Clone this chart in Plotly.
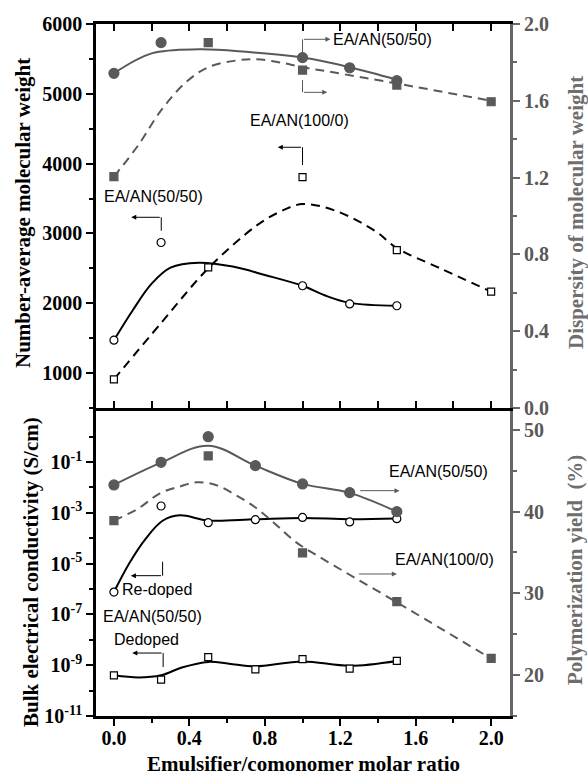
import plotly.graph_objects as go

# ---------------- data ----------------
# Top panel: number-average molecular weight (left) and dispersity (right)
mn_5050_x = [0.0, 0.25, 1.0, 1.25, 1.5]
mn_5050_y = [1470, 2870, 2250, 1990, 1964]
mn_5050_fit_x = [0.0, 0.1, 0.2, 0.3, 0.45, 0.63, 0.8, 1.0, 1.12, 1.25, 1.5]
mn_5050_fit_y = [1470, 1900, 2280, 2510, 2580, 2525, 2405, 2250, 2110, 2005, 1964]

mn_1000_x = [0.0, 0.5, 1.0, 1.5, 2.0]
mn_1000_y = [910, 2514, 3805, 2762, 2165]
mn_1000_fit_x = [0.0, 0.25, 0.5, 0.75, 0.88, 1.0, 1.18, 1.39, 1.5, 1.73, 2.0]
mn_1000_fit_y = [910, 1716, 2500, 3100, 3310, 3420, 3320, 3025, 2790, 2500, 2165]

pdi_5050_x = [0.0, 0.25, 1.0, 1.25, 1.5]
pdi_5050_y = [1.743, 1.903, 1.825, 1.772, 1.705]
pdi_5050_fit_x = [0.0, 0.2, 0.45, 0.7, 1.0, 1.25, 1.5]
pdi_5050_fit_y = [1.743, 1.847, 1.868, 1.855, 1.825, 1.775, 1.71]

pdi_1000_x = [0.0, 0.5, 1.0, 1.5, 2.0]
pdi_1000_y = [1.205, 1.903, 1.76, 1.682, 1.595]
pdi_1000_fit_x = [0.0, 0.13, 0.25, 0.38, 0.5, 0.65, 0.76, 0.88, 1.0, 1.14, 1.5, 2.0]
pdi_1000_fit_y = [1.205, 1.37, 1.55, 1.695, 1.775, 1.81, 1.816, 1.8, 1.775, 1.752, 1.69, 1.6]

# Bottom panel: conductivity (left, log) and polymerization yield (right)
redoped_x = [0.0, 0.25, 0.5, 0.75, 1.0, 1.25, 1.5]
redoped_y = [7.6e-7, 1.86e-3, 4.1e-4, 5.4e-4, 6.6e-4, 4.4e-4, 5.9e-4]
redoped_fit_x = [0.0, 0.08, 0.17, 0.26, 0.35, 0.5, 0.75, 1.0, 1.25, 1.5]
redoped_fit_y = [7.6e-7, 1.0e-5, 1.0e-4, 5.0e-4, 8.0e-4, 5.0e-4, 5.6e-4, 6.3e-4, 5.6e-4, 6.0e-4]

dedoped_x = [0.0, 0.25, 0.5, 0.75, 1.0, 1.25, 1.5]
dedoped_y = [4.0e-10, 2.7e-10, 2.1e-9, 6.8e-10, 1.74e-9, 7.4e-10, 1.48e-9]
dedoped_fit_x = [0.0, 0.13, 0.25, 0.36, 0.5, 0.61, 0.75, 1.0, 1.25, 1.5]
dedoped_fit_y = [4.0e-10, 3.3e-10, 4.0e-10, 8.1e-10, 1.35e-9, 1.15e-9, 9.1e-10, 1.41e-9, 9.5e-10, 1.48e-9]

yield_5050_x = [0.0, 0.25, 0.5, 0.75, 1.0, 1.25, 1.5]
yield_5050_y = [43.27, 46.04, 49.18, 45.63, 43.39, 42.33, 40.0]
yield_5050_fit_x = [0.0, 0.25, 0.5, 0.75, 1.0, 1.25, 1.5]
yield_5050_fit_y = [43.27, 46.0, 48.08, 45.63, 43.4, 42.3, 40.0]

yield_1000_x = [0.0, 0.5, 1.0, 1.5, 2.0]
yield_1000_y = [38.9, 46.82, 34.95, 28.98, 22.04]
yield_1000_fit_x = [0.0, 0.13, 0.244, 0.347, 0.44, 0.54, 0.645, 0.747, 0.855, 0.963, 1.072, 1.5, 2.0]
yield_1000_fit_y = [38.9, 40.4, 42.25, 43.06, 43.6, 43.27, 42.04, 40.57, 38.5, 36.3, 34.7, 28.9, 22.0]

x_ticks = [0.0, 0.4, 0.8, 1.2, 1.6, 2.0]
x_ticktext = ["0.0", "0.4", "0.8", "1.2", "1.6", "2.0"]
mn_ticks = [1000, 2000, 3000, 4000, 5000, 6000]
pdi_ticks = [0.0, 0.4, 0.8, 1.2, 1.6, 2.0]
pdi_ticktext = ["0.0", "0.4", "0.8", "1.2", "1.6", "2.0"]
cond_ticks = [1e-11, 1e-9, 1e-7, 1e-5, 1e-3, 1e-1]
cond_ticktext = ["10<sup>-11</sup>", "10<sup>-9</sup>", "10<sup>-7</sup>",
                 "10<sup>-5</sup>", "10<sup>-3</sup>", "10<sup>-1</sup>"]
cond_minor = [1e-10, 1e-8, 1e-6, 1e-4, 1e-2, 1e0]
yield_ticks = [20, 30, 40, 50]

# ---------------- styles ----------------
BLACK = "#000000"
GRAY = "#595959"
AXGRAY = "#666666"
SERIF = "Liberation Serif"
SANS = "Liberation Sans"
DASH = "9px,6px"

fig = go.Figure()


def curve(x, y, xa, ya, color, dash=None):
    fig.add_trace(go.Scatter(x=x, y=y, xaxis=xa, yaxis=ya, mode="lines",
                             line=dict(color=color, width=2, shape="spline",
                                       smoothing=1.0, dash=dash),
                             showlegend=False, hoverinfo="skip"))


def pts(x, y, xa, ya, symbol, size, fill, edge):
    fig.add_trace(go.Scatter(x=x, y=y, xaxis=xa, yaxis=ya, mode="markers",
                             marker=dict(symbol=symbol, size=size, color=fill,
                                         line=dict(color=edge, width=1.2)),
                             showlegend=False, cliponaxis=False))


# top panel
curve(mn_5050_fit_x, mn_5050_fit_y, "x2", "y2", BLACK)
curve(mn_1000_fit_x, mn_1000_fit_y, "x2", "y2", BLACK, DASH)
curve(pdi_5050_fit_x, pdi_5050_fit_y, "x2", "y4", GRAY)
curve(pdi_1000_fit_x, pdi_1000_fit_y, "x2", "y4", GRAY, DASH)
pts(pdi_5050_x, pdi_5050_y, "x2", "y4", "circle", 10, GRAY, GRAY)
pts(pdi_1000_x, pdi_1000_y, "x2", "y4", "square", 8, GRAY, GRAY)
pts(mn_5050_x, mn_5050_y, "x2", "y2", "circle", 8, "white", BLACK)
pts(mn_1000_x, mn_1000_y, "x2", "y2", "square", 7, "white", BLACK)

# bottom panel
curve(yield_5050_fit_x, yield_5050_fit_y, "x", "y3", GRAY)
curve(yield_1000_fit_x, yield_1000_fit_y, "x", "y3", GRAY, DASH)
curve(redoped_fit_x, redoped_fit_y, "x", "y", BLACK)
curve(dedoped_fit_x, dedoped_fit_y, "x", "y", BLACK)
pts(yield_5050_x, yield_5050_y, "x", "y3", "circle", 10, GRAY, GRAY)
pts(yield_1000_x, yield_1000_y, "x", "y3", "square", 8, GRAY, GRAY)
pts(redoped_x, redoped_y, "x", "y", "circle", 8, "white", BLACK)
pts(dedoped_x, dedoped_y, "x", "y", "square", 7, "white", BLACK)

SPLIT = (716 - 408) / 692
XR = [-0.095, 2.1]
tickfont_b = dict(family=SERIF, size=20, color=BLACK, weight="bold")
tickfont_g = dict(family=SERIF, size=20, color=GRAY, weight="bold")

common_x = dict(range=XR, showline=True, linecolor=BLACK, linewidth=2.5,
                tickwidth=2, tickcolor=BLACK, ticklen=7, showgrid=False, zeroline=False,
                tickvals=x_ticks, ticktext=x_ticktext,
                minor=dict(tickvals=[0.2, 0.6, 1.0, 1.4, 1.8], ticklen=4, tickwidth=2,
                           tickcolor=BLACK, ticks="inside", showgrid=False))

fig.update_layout(
    width=588, height=775,
    margin=dict(l=96, r=78, t=24, b=59),
    paper_bgcolor="white", plot_bgcolor="white",
    showlegend=False,
    xaxis=dict(common_x, domain=[0, 1], anchor="y", ticks="outside",
               tickfont=tickfont_b, showticklabels=True, ticklabelstandoff=-5,
               minor=dict(tickvals=[0.2, 0.6, 1.0, 1.4, 1.8], ticklen=4, tickwidth=2,
                          tickcolor=BLACK, ticks="outside", showgrid=False)),
    xaxis2=dict(common_x, domain=[0, 1], anchor="y2", ticks="inside", mirror="allticks",
                showticklabels=False),
    xaxis3=dict(common_x, overlaying="x", anchor="y", side="top", ticks="inside",
                showticklabels=False),
    yaxis=dict(domain=[0, SPLIT], anchor="x", type="log", range=[-11, 1.13],
               tickvals=cond_ticks, ticktext=cond_ticktext, tickfont=tickfont_b,
               ticks="outside", ticklen=7, tickwidth=2, tickcolor=BLACK,
               showline=True, linecolor=BLACK, linewidth=2.5, showgrid=False, zeroline=False,
               minor=dict(tickvals=cond_minor, ticks="outside", ticklen=4, tickwidth=2,
                          tickcolor=BLACK, showgrid=False)),
    yaxis3=dict(overlaying="y", anchor="x", side="right", range=[14.98, 52.69],
                tickvals=yield_ticks, tickfont=tickfont_g,
                ticks="outside", ticklen=7, tickwidth=2, tickcolor=AXGRAY,
                showline=True, linecolor=AXGRAY, linewidth=3, showgrid=False, zeroline=False,
                minor=dict(dtick=5, tick0=0, ticks="outside", ticklen=4, tickwidth=2,
                           tickcolor=AXGRAY, showgrid=False)),
    yaxis2=dict(domain=[SPLIT, 1], anchor="x2", range=[499, 6000],
                tickvals=mn_ticks, tickfont=tickfont_b,
                ticks="outside", ticklen=7, tickwidth=2, tickcolor=BLACK,
                showline=True, linecolor=BLACK, linewidth=2.5, showgrid=False, zeroline=False,
                minor=dict(dtick=500, tick0=0, ticks="outside", ticklen=4, tickwidth=2,
                           tickcolor=BLACK, showgrid=False)),
    yaxis4=dict(overlaying="y2", anchor="x2", side="right", range=[0, 2.0],
                tickvals=pdi_ticks, ticktext=pdi_ticktext, tickfont=tickfont_g,
                ticks="outside", ticklen=7, tickwidth=2, tickcolor=AXGRAY,
                showline=True, linecolor=AXGRAY, linewidth=3, showgrid=False, zeroline=False,
                minor=dict(dtick=0.2, tick0=0, ticks="outside", ticklen=4, tickwidth=2,
                           tickcolor=AXGRAY, showgrid=False)),
)

# ---------------- axis titles ----------------
titlefont_b = dict(family=SERIF, size=21, color=BLACK, weight="bold")
titlefont_g = dict(family=SERIF, size=21, color="#6e6e6e", weight="bold")


def ptitle(text, px, py, font, angle):
    fig.add_annotation(text=text, xref="paper", yref="paper",
                       x=(px - 96) / 414, y=(716 - py) / 692, showarrow=False,
                       textangle=angle, xanchor="center", yanchor="middle", font=font,
                       borderpad=0)


ptitle("Number-average molecular weight", 23, 213, titlefont_b, -90)
ptitle("Bulk electrical conductivity (S/cm)", 31, 572, titlefont_b, -90)
ptitle("Dispersity of molecular weight", 576, 213, titlefont_g, -90)
ptitle("Polymerization yield  (%)", 575, 570, titlefont_g, -90)
ptitle("Emulsifier/comonomer molar ratio", 303, 764, titlefont_b, 0)

# ---------------- labels, brackets and arrows ----------------
lblfont = dict(family=SANS, size=16, color=BLACK)


def label(text, x, y, xa, ya):
    fig.add_annotation(text=text, x=x, y=y, xref=xa, yref=ya, showarrow=False,
                       font=lblfont, xanchor="center", yanchor="middle")


def arrow(x0, x1, y, xa, ya, color):
    fig.add_annotation(x=x1, y=y, ax=x0, ay=y, xref=xa, yref=ya, axref=xa, ayref=ya,
                       text="", showarrow=True, arrowhead=2, arrowsize=1,
                       arrowwidth=1, arrowcolor=color)


def vline(x, y0, y1, xa, ya, color):
    fig.add_shape(type="line", x0=x, x1=x, y0=y0, y1=y1, xref=xa, yref=ya,
                  line=dict(color=color, width=1))


# top panel
label("EA/AN(50/50)", 0.21, 3526, "x2", "y2")
vline(0.251, 3039, 3231, "x2", "y2", BLACK)
arrow(0.251, 0.092, 3231, "x2", "y2", BLACK)

label("EA/AN(100/0)", 0.982, 4617, "x2", "y2")
vline(1.0, 3980, 4234, "x2", "y2", BLACK)
arrow(1.0, 0.869, 4234, "x2", "y2", BLACK)

label("EA/AN(50/50)", 1.424, 5781, "x2", "y2")
arrow(1.0, 1.148, 5781, "x2", "y2", GRAY)
vline(1.0, 5781, 5585, "x2", "y2", GRAY)
vline(1.0, 5198, 5021, "x2", "y2", GRAY)
arrow(1.0, 1.131, 5021, "x2", "y2", GRAY)

# bottom panel
label("EA/AN(50/50)", 1.72, 44.86, "x", "y3")
arrow(1.298, 1.514, 42.57, "x", "y3", GRAY)

label("EA/AN(100/0)", 1.752, 34.2, "x", "y3")
arrow(1.291, 1.5, 32.37, "x", "y3", GRAY)

label("Re-doped", 0.226, 30.41, "x", "y3")
vline(0.258, 33.87, 32.16, "x", "y3", BLACK)
arrow(0.258, 0.09, 32.16, "x", "y3", BLACK)

label("EA/AN(50/50)", 0.203, 27.14, "x", "y3")

label("Dedoped", 0.172, 24.29, "x", "y3")
vline(0.261, 20.98, 22.69, "x", "y3", BLACK)
arrow(0.261, 0.0975, 22.69, "x", "y3", BLACK)

fig.write_html("out.html")
